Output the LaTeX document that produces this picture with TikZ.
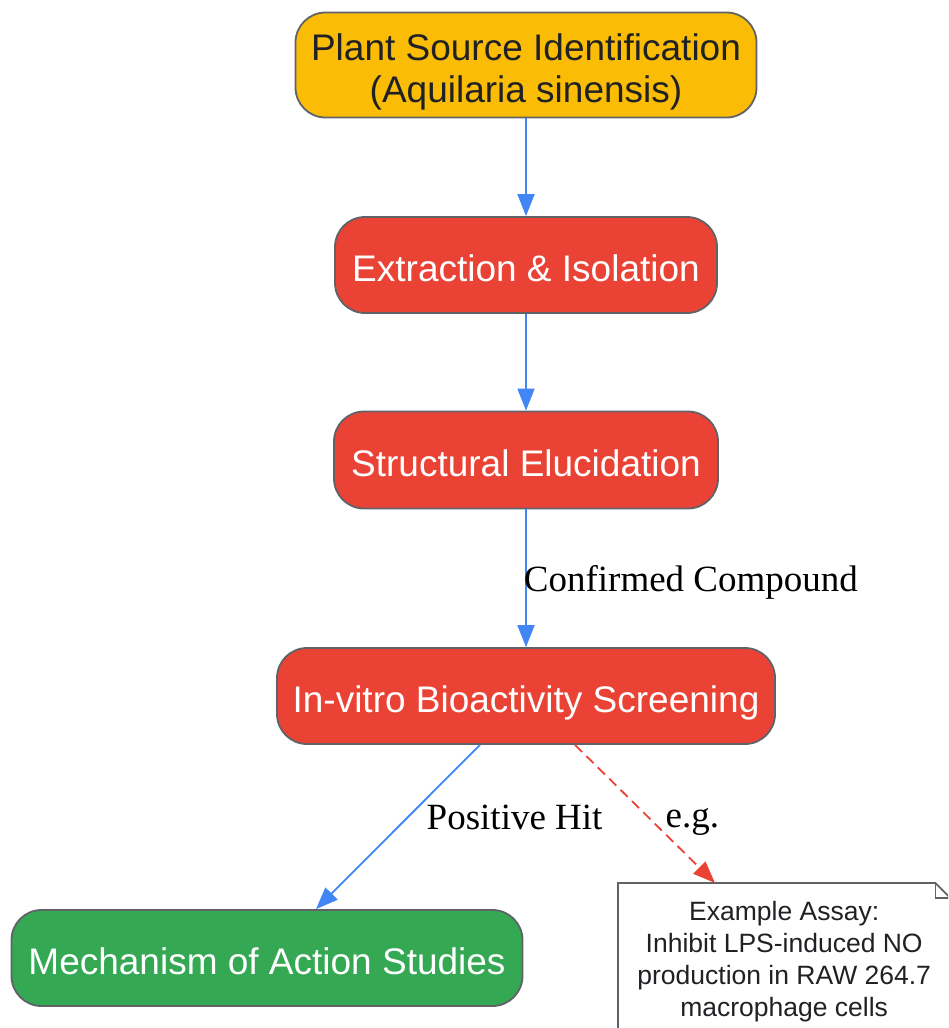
\documentclass[tikz,border=0pt]{standalone}
\usepackage{fontspec}
\setmainfont{Liberation Serif}
\setsansfont{Liberation Sans}
\usetikzlibrary{arrows.meta}

\definecolor{gyellow}{HTML}{FBBC05}
\definecolor{gred}{HTML}{EA4335}
\definecolor{ggreen}{HTML}{34A853}
\definecolor{gblue}{HTML}{4285F4}
\definecolor{gborder}{HTML}{5F6368}
\definecolor{gtext}{HTML}{202124}

\begin{document}
\begin{tikzpicture}[x=1pt, y=-1pt,
    stepbox/.style={draw=gborder, line width=1.8pt, rounded corners=30pt,
      inner sep=0pt, align=center, text height=33pt, text depth=0pt,
      font=\sffamily\fontsize{37}{42}\selectfont},
    flow/.style={draw=gblue, line width=1.8pt, -{Triangle[length=22pt,width=17pt]}},
    hint/.style={draw=gred, line width=1.8pt, dash pattern=on 10pt off 6pt,
      -{Triangle[length=22pt,width=17pt]}},
    lbl/.style={inner sep=0pt, font=\fontsize{37}{42}\selectfont},
    notebox/.style={draw=gborder, line width=1.8pt}]
  \useasboundingbox (0,0) rectangle (948,1028);
  \clip (0,0) rectangle (948,1028);

  \node (plant) [stepbox, fill=gyellow, text=gtext, minimum width=461pt, minimum height=105pt,
        text height=74pt, text depth=0pt]
        at (526,65) {Plant Source Identification\\(Aquilaria sinensis)};
  \node (extract) [stepbox, fill=gred, text=white, minimum width=382pt, minimum height=96pt]
        at (526,265) {Extraction \& Isolation};
  \node (struct) [stepbox, fill=gred, text=white, minimum width=384pt, minimum height=97pt]
        at (526,460) {Structural Elucidation};
  \node (screen) [stepbox, fill=gred, text=white, minimum width=498pt, minimum height=96pt]
        at (526,696) {In-vitro Bioactivity Screening};
  \node (moa) [stepbox, fill=ggreen, text=white, minimum width=511pt, minimum height=96pt]
        at (267,958) {Mechanism of Action Studies};

  % note with folded corner
  \node (note) [anchor=north west, inner sep=0pt, minimum width=332pt, minimum height=157pt,
        align=center, text=gtext, font=\sffamily\fontsize{26.5}{31.8}\selectfont]
        at (618,883) {Example Assay:\\Inhibit LPS-induced NO\\production in RAW 264.7\\macrophage cells};
  \draw[notebox] (note.north west) -- ([xshift=-15pt]note.north east)
        -- ([yshift=-15pt]note.north east) -- (note.south east)
        -- (note.south west) -- cycle;
  \draw[notebox] ([xshift=-15pt]note.north east) -- ([xshift=-15pt,yshift=-15pt]note.north east)
        -- ([yshift=-15pt]note.north east);

  \draw[flow] (plant) -- (extract);
  \draw[flow] (extract) -- (struct);
  \draw[flow] (struct) -- node[lbl, anchor=west, xshift=-3pt, yshift=-4pt] {Confirmed Compound} (screen);
  \draw[flow] ([xshift=-46pt]screen.south) -- node[lbl, pos=.44, anchor=west, xshift=18pt] {Positive Hit}
        ([xshift=49pt]moa.north);
  \draw[hint] ([xshift=49pt]screen.south) -- node[lbl, pos=.52, anchor=west, xshift=17pt, yshift=-5pt] {e.g.}
        ([xshift=97pt]note.north west);
\end{tikzpicture}
\end{document}
